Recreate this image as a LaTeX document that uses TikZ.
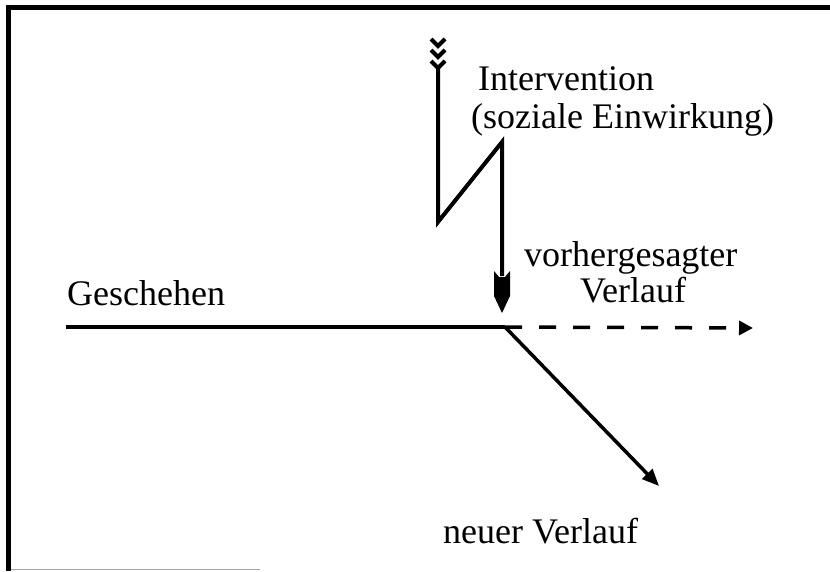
\documentclass[tikz,border=0pt]{standalone}
\usepackage{fontspec}
\setmainfont{Liberation Serif}
\usetikzlibrary{arrows.meta}
\begin{document}
\begin{tikzpicture}[x=1pt,y=-1pt,
  lbl/.style={anchor=base west,inner sep=0pt,font=\fontsize{36}{40}\selectfont},
  thick line/.style={line width=3.5pt},
  bolt/.style={line width=4pt,line join=miter},
  frame/.style={line width=5pt}]
\useasboundingbox (0,0) rectangle (830,571);
% frame
\coordinate (fTL) at (8.5,7);
\coordinate (fTR) at (830,7);
\coordinate (fBL) at (8.5,571);
\draw[frame] (fTR) -- (fTL) -- (fBL);
\draw[line width=0.6pt,black!35] (11,569) -- (260,569);
% texts
\node[lbl] (interv) at (478,90) {Intervention};
\node[lbl] (sozial) at (471,128) {(soziale Einwirkung)};
\node[lbl] (vorher) at (524,266) {vorhergesagter};
\node[lbl] (verl) at (580,302) {Verlauf};
\node[lbl] (gesch) at (67,305) {Geschehen};
\node[lbl] (neu) at (443,543) {neuer Verlauf};
% event line
\coordinate (start) at (66,327);
\coordinate (split) at (505,327);
\coordinate (dashend) at (753,328);
\coordinate (newend) at (659,486);
\draw[thick line] (start) -- (split);
\draw[thick line,dash pattern=on 17pt off 17pt,-{Triangle[length=14pt,width=14pt]}] (split) -- (dashend);
\draw[thick line,-{Triangle[length=17pt,width=14pt]}] (split) -- (newend);
% intervention lightning
\coordinate (ltop) at (438,66);
\coordinate (zbot) at (438,222);
\coordinate (ztop) at (502,142);
\coordinate (hbase) at (502,276);
\draw[bolt] (ltop) -- (zbot) -- (ztop) -- (hbase);
\foreach \yy in {39,50,61}
  \draw[bolt] (431,\yy) -- (438,\yy+7) -- (445,\yy);
\fill (494,271) -- (499,277) -- (505,277) -- (510,271) -- (510,296) -- (502,313) -- (494,296) -- cycle;
\end{tikzpicture}
\end{document}
